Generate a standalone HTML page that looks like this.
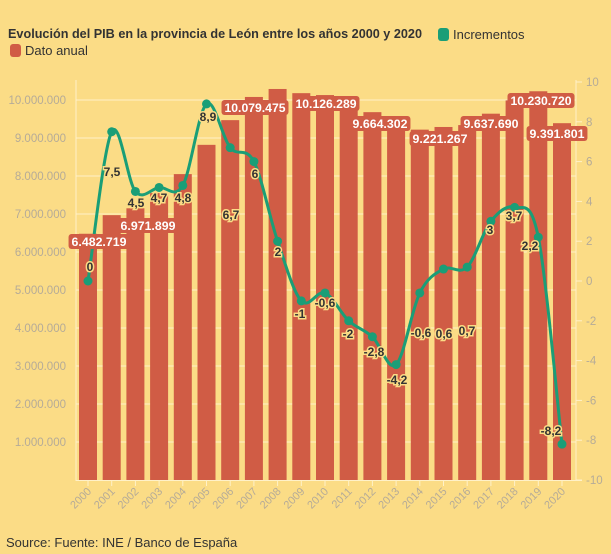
<!DOCTYPE html>
<html><head><meta charset="utf-8"><style>
body{margin:0;background:#fbdc86;}
svg{display:block;font-family:"Liberation Sans",sans-serif;}
</style></head><body>
<svg width="611" height="554" viewBox="0 0 611 554">
<rect width="611" height="554" fill="#fbdc86"/>
<text x="8" y="38" font-size="13" font-weight="bold" fill="#333" textLength="414" lengthAdjust="spacingAndGlyphs">Evolución del PIB en la provincia de León entre los años 2000 y 2020</text>
<rect x="438" y="28" width="11" height="13" rx="3" fill="#1a9e77"/>
<text x="453" y="39" font-size="13" fill="#333">Incrementos</text>
<rect x="10" y="44" width="11" height="13" rx="3" fill="#d05c45"/>
<text x="25" y="55" font-size="13" fill="#333">Dato anual</text>
<g id="grid" stroke="#fff1c8" stroke-width="1"></g>
<g id="bars"></g>
<g id="axes"></g>
<path id="line" fill="none" stroke="#1a9e77" stroke-width="3"/>
<g id="dots"></g>
<g id="labels"></g>
<text x="6" y="547" font-size="13" fill="#333">Source: Fuente: INE / Banco de España</text>
</svg>
<script>
const NS="http://www.w3.org/2000/svg";
function el(p,t,a,txt){const e=document.createElementNS(NS,t);for(const k in a)e.setAttribute(k,a[k]);if(txt!==undefined)e.textContent=txt;document.getElementById(p).appendChild(e);return e;}
const yl=v=>480-38*v/1e6, yr=v=>281-19.9*v, xc=i=>88+23.7*i;
for(let m=1;m<=10;m++){el('grid','line',{x1:76,x2:576,y1:yl(m*1e6),y2:yl(m*1e6)});
 el('axes','text',{x:66,y:yl(m*1e6)+4,'font-size':11.5,fill:'#b5ab98','text-anchor':'end'},(m*1000000).toLocaleString('de-DE'));}
for(let v=-10;v<=10;v+=2){el('axes','line',{x1:576,x2:582,y1:yr(v),y2:yr(v),stroke:'#fff1c8'});
 el('axes','text',{x:586,y:yr(v)+4,'font-size':11.5,fill:'#b5ab98'},String(v));}
el('axes','line',{x1:76,x2:76,y1:80,y2:481,stroke:'#fff1c8'});
el('axes','line',{x1:576,x2:576,y1:80,y2:481,stroke:'#fff1c8'});
el('axes','line',{x1:76,x2:582,y1:480.5,y2:480.5,stroke:'#fff1c8'});
const vals=[6.48,6.97,7.15,7.55,8.05,8.82,9.47,10.08,10.29,10.18,10.13,9.92,9.68,9.47,9.22,9.29,9.34,9.64,9.99,10.23,9.39];
vals.forEach((v,i)=>{const x=xc(i);el('bars','rect',{x:x-9,y:yl(v*1e6),width:18,height:480-yl(v*1e6),fill:'#d05c45'});
 el('axes','line',{x1:x,x2:x,y1:481,y2:486,stroke:'#fff1c8'});
 el('axes','text',{x:x+4,y:492,'font-size':11,fill:'#b5ab98','text-anchor':'end',transform:`rotate(-45 ${x+4} 492)`},String(2000+i));});
const inc=[0,7.5,4.5,4.7,4.8,8.9,6.7,6,2,-1,-0.6,-2,-2.8,-4.2,-0.6,0.6,0.7,3,3.7,2.2,-8.2];
const P=inc.map((v,i)=>[xc(i),yr(v)]);
let d=`M${P[0][0]},${P[0][1]}`;
for(let i=0;i<P.length-1;i++){const p0=P[i-1]||P[i],p1=P[i],p2=P[i+1],p3=P[i+2]||P[i+1];
 d+=` C${p1[0]+(p2[0]-p0[0])/6},${p1[1]+(p2[1]-p0[1])/6} ${p2[0]-(p3[0]-p1[0])/6},${p2[1]-(p3[1]-p1[1])/6} ${p2[0]},${p2[1]}`;}
document.getElementById('line').setAttribute('d',d);
P.forEach(p=>el('dots','circle',{cx:p[0],cy:p[1],r:4.5,fill:'#1a9e77'}));
const bl=[['6.482.719',99,246],['6.971.899',148,230],['10.079.475',255,112],['10.126.289',326,108],['9.664.302',380,128],['9.221.267',440,143],['9.637.690',491,128],['10.230.720',541,105],['9.391.801',557,138]];
bl.forEach(([t,x,y])=>{const tw=t.length*6.1;el('labels','rect',{x:x-tw/2-3,y:y-12,width:tw+6,height:15,rx:3,fill:'#d05c45'});
 el('labels','text',{x,y,'font-size':12,'font-weight':'bold',fill:'#fff','text-anchor':'middle',textLength:tw,lengthAdjust:'spacingAndGlyphs'},t);});
const ll=[[0,90,271],[1,112,176],[2,136,207],[3,159,202],[4,183,202],[5,208,121],[6,231,219],[7,255,178],[8,278,256],[9,300,318],[10,325,307],[11,348,338],[12,374,356],[13,397,384],[14,421,337],[15,444,338],[16,467,335],[17,490,234],[18,514,220],[19,530,250],[20,551,435]];
const it=['0','7,5','4,5','4,7','4,8','8,9','6,7','6','2','-1','-0,6','-2','-2,8','-4,2','-0,6','0,6','0,7','3','3,7','2,2','-8,2'];
ll.forEach(([i,x,y])=>el('labels','text',{x,y,'font-size':12,'font-weight':'bold',fill:'#333','text-anchor':'middle',stroke:'#fbdc86','stroke-width':3,'paint-order':'stroke'},it[i]));
</script>
</body></html>
